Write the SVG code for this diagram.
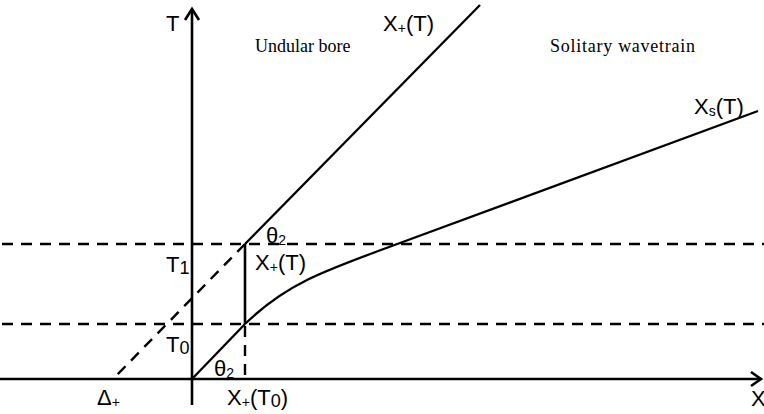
<svg xmlns="http://www.w3.org/2000/svg" width="764" height="414" viewBox="0 0 764 414">
<style>
.ax{stroke:#000;stroke-width:2.6;fill:none}
.ln{stroke:#000;stroke-width:2.3;fill:none}
.ds{stroke:#000;stroke-width:2.4;fill:none;stroke-dasharray:11 8}
.lb{font-family:"Liberation Sans",Arial,sans-serif;font-size:22px;fill:#000}
.sb{font-size:14px}
.sr{font-family:"Liberation Serif","Times New Roman",serif;font-size:18px;fill:#000}
</style>
<rect width="764" height="414" fill="#fff"/>
<g id="connectors">
<line class="ds" x1="2" y1="244" x2="764" y2="244"/>
<line class="ds" x1="2" y1="324" x2="764" y2="324"/>
<line class="ds" x1="245" y1="326" x2="245" y2="379"/>
<line class="ds" x1="245" y1="244" x2="113" y2="379"/>
<line class="ax" x1="192" y1="405" x2="192" y2="9"/>
<polyline class="ax" points="185,20 192,9 199,20"/>
<line class="ax" x1="0" y1="379" x2="761" y2="379"/>
<polyline class="ax" points="751,372 761,379 751,386"/>
<line class="ln" x1="192" y1="379" x2="245" y2="324"/>
<line class="ln" x1="245" y1="244" x2="480" y2="5"/>
<line class="ax" x1="245" y1="244" x2="245" y2="324"/>
<path class="ln" d="M245,324 C285,285 320,272 400,243 L758,111"/>
</g>
<g id="label-T"><text class="lb" x="166" y="31">T</text></g>
<g id="label-undular"><text class="sr" x="255" y="52">Undular bore</text></g>
<g id="label-solitary"><text class="sr" x="550" y="52" textLength="145">Solitary wavetrain</text></g>
<g id="label-Xplus-top"><text class="lb" x="383" y="31">X<tspan class="sb" dy="2">+</tspan><tspan dy="-2">(T)</tspan></text></g>
<g id="label-Xs"><text class="lb" x="694" y="114">X<tspan class="sb" dy="2">s</tspan><tspan dy="-2">(T)</tspan></text></g>
<g id="label-theta-top"><text class="lb" x="266" y="243">θ<tspan class="sb" dy="2">2</tspan></text></g>
<g id="label-Xplus-mid"><text class="lb" x="255" y="270">X<tspan class="sb" dy="2">+</tspan><tspan dy="-2">(T)</tspan></text></g>
<g id="label-T1"><text class="lb" x="166" y="272">T<tspan dy="2" style="font-size:18px">1</tspan></text></g>
<g id="label-T0"><text class="lb" x="166" y="352">T<tspan dy="2" style="font-size:18px">0</tspan></text></g>
<g id="label-theta-bot"><text class="lb" x="214" y="376">θ<tspan class="sb" dy="2">2</tspan></text></g>
<g id="label-Xplus-T0"><text class="lb" x="227" y="405">X<tspan class="sb" dy="2">+</tspan><tspan dy="-2">(T</tspan><tspan dy="2" style="font-size:18px">0</tspan><tspan dy="-2">)</tspan></text></g>
<g id="label-Delta"><text class="lb" x="97" y="405">Δ<tspan class="sb" dy="2">+</tspan></text></g>
<g id="label-X"><text class="lb" x="751" y="406">X</text></g>
</svg>
